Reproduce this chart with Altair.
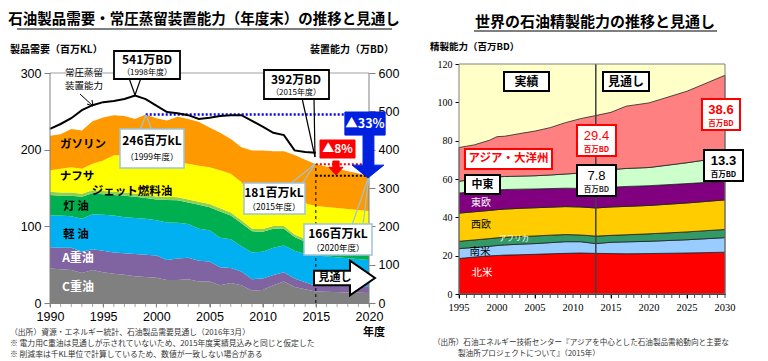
import altair as alt
import pandas as pd

JP = "Noto Sans CJK JP"
NUM = "Liberation Sans"
NARROW = "Liberation Sans Narrow"

# ---------------- left panel data (百万kL, 年度) ----------------
years_l = list(range(1990, 2016)) + [2020]
cats_l = ["C重油", "A重油", "軽油", "灯油", "ジェット燃料油", "ナフサ", "ガソリン"]
c_heavy = [45, 44, 43, 39, 43, 40, 38, 37, 35, 34, 33, 30, 30, 31, 28, 28, 23, 26, 23, 16, 17, 23, 28, 21, 18, 15, 13]
a_heavy = [27.6, 28, 29, 28, 27, 28, 28, 28, 29, 29, 29, 26, 28, 28, 27, 26, 23.5, 19.6, 18, 15, 15, 13.5, 12, 11, 9, 7.6, 8.7]
diesel = [41.4, 42, 41, 43, 45.6, 47, 48, 47, 47, 47, 46, 49, 46.6, 44, 42, 41, 38.5, 37.4, 33, 35, 35, 35.5, 35, 36, 37, 39.4, 34.3]
kerosene = [27, 26, 27, 28.6, 27.4, 27, 27, 28, 27.6, 27, 27, 29.5, 29.4, 28, 31, 30, 34.5, 31, 30, 27.5, 26, 25, 22, 18, 16, 13, 8]
jet = [4, 4, 4, 4, 4, 4, 4, 4, 4, 4, 4, 4, 4, 4, 4, 4, 4, 4, 4, 3.5, 3.5, 3.5, 3.5, 3.5, 3.5, 3.5, 3.5]
naphtha = [28, 31, 33, 32.4, 34.6, 40, 47.6, 48.6, 47.4, 47, 47, 43, 45.7, 46.6, 47, 48, 49.5, 50.6, 49.8, 37, 35, 35.5, 38.1, 42, 46.5, 48, 52.5]
gasoline = [45, 45, 50, 50, 55.4, 56, 52.4, 51.4, 50, 58, 55, 56.4, 59.3, 58.4, 57, 52, 49, 45.4, 45.2, 65, 67.5, 62, 59.4, 61.5, 57, 54.5, 46]
colors_l = ["#808080", "#8064a2", "#00b0f0", "#00b050", "#92d050", "#ffff00", "#ff9900"]

cap_years = list(range(1990, 2016))
capacity = [454, 467, 482, 503, 516, 524, 527, 532, 541, 532, 515, 498, 495, 490, 480, 483, 488, 490, 490, 475, 460, 444, 438, 398, 394, 392]

ticks_l = list(range(1990, 2021))
labels_l = [1990, 1995, 2000, 2005, 2010, 2015, 2020]

# ---------------- right panel data (百万BD) ----------------
years_r = [1995, 1997, 1999, 2000, 2001, 2003, 2005, 2007, 2009, 2011, 2013, 2015, 2017, 2020, 2025, 2030]
cats_r = ["北米", "南米", "アフリカ", "西欧", "東欧", "中東", "アジア・大洋州"]
n_america = [18.5, 19.3, 19.9, 20.1, 20.3, 20.5, 20.7, 21.0, 21.2, 21.4, 21.2, 21.1, 21.0, 21.1, 21.4, 21.8]
s_america = [5.2, 5.0, 5.0, 5.2, 5.3, 5.5, 5.6, 5.8, 6.1, 5.9, 5.1, 5.9, 6.2, 6.4, 6.9, 7.6]
africa = [3.8, 3.9, 4.0, 4.0, 4.0, 4.0, 4.0, 3.9, 3.7, 3.5, 3.9, 3.6, 3.7, 3.9, 4.1, 4.3]
w_europe = [14.7, 14.7, 14.7, 14.7, 14.7, 14.7, 14.7, 14.6, 14.6, 14.6, 14.7, 14.8, 14.8, 14.8, 15.1, 15.4]
e_europe = [10.5, 10.5, 10.4, 10.3, 10.2, 10.0, 9.8, 9.7, 9.6, 9.7, 10.2, 10.3, 10.4, 10.3, 10.1, 9.7]
mideast = [6.1, 6.6, 6.9, 6.8, 6.8, 6.8, 6.9, 7.1, 7.4, 8.0, 8.4, 9.2, 9.4, 9.5, 10.9, 12.6]
asia = [17.6, 17.8, 19.3, 21.0, 21.0, 22.2, 23.3, 24.7, 26.8, 28.4, 29.6, 29.9, 32.5, 33.7, 37.3, 42.7]
colors_r = ["#ff0000", "#99ccff", "#339966", "#ffcc00", "#800080", "#ccffcc", "#ff8080"]

ticks_r = list(range(1995, 2031))
labels_r = [1995, 2000, 2005, 2010, 2015, 2020, 2025, 2030]

# ---------------- tables ----------------
rows = []
for k, (c, s) in enumerate(zip(cats_l, [c_heavy, a_heavy, diesel, kerosene, jet, naphtha, gasoline])):
    for y, v in zip(years_l, s):
        rows.append({"year": y, "cat": c, "ord": k, "value": v})
df_l = pd.DataFrame(rows)
df_cap = pd.DataFrame({"year": cap_years, "cap": capacity})

rows = []
for k, (c, s) in enumerate(zip(cats_r, [n_america, s_america, africa, w_europe, e_europe, mideast, asia])):
    for y, v in zip(years_r, s):
        rows.append({"year": y, "region": c, "ord": k, "value": v})
df_r = pd.DataFrame(rows)

one = pd.DataFrame({"k": [0]})


def T(x, y, s, size=11, color="black", weight="bold", align="center", font=JP):
    return alt.Chart(one).mark_text(text=s, font=font, fontSize=size, fontWeight=weight, color=color,
                                    align=align, baseline="middle").encode(x=alt.value(x), y=alt.value(y))


def R(x1, y1, x2, y2, fill="white", stroke="black", sw=1.5, fo=1):
    return alt.Chart(one).mark_rect(fill=fill, stroke=stroke, strokeWidth=sw, fillOpacity=fo).encode(
        x=alt.value(x1), x2=alt.value(x2), y=alt.value(y1), y2=alt.value(y2))


def L(x1, y1, x2, y2, color="black", sw=1):
    return alt.Chart(one).mark_rule(color=color, strokeWidth=sw).encode(
        x=alt.value(x1), x2=alt.value(x2), y=alt.value(y1), y2=alt.value(y2))


def P(x, y, path, size, fill, stroke, sw=1):
    return alt.Chart(one).mark_point(shape=path, size=size, filled=True, fill=fill, stroke=stroke,
                                     strokeWidth=sw, opacity=1, fillOpacity=1).encode(
        x=alt.value(x), y=alt.value(y))


# ---------------- left panel ----------------
LW, LH = 319, 239
YMAX = 300 * LH / 230.0
OX, OY = 48, 62


def lx(p):
    return p - OX


def ly(p):
    return p - OY


xl = alt.X("year:Q", scale=alt.Scale(domain=[1990, 2020], nice=False, zero=False),
           axis=alt.Axis(values=labels_l, format="d",
                         title=None, grid=False, domainColor="#808080", tickColor="#808080", tickSize=4,
                         labelFont=NUM, labelFontSize=12.5, labelColor="black", labelPadding=3,
                         labelOverlap=False, labelFlush=False))

areas_l = alt.Chart(df_l).mark_area().encode(
    x=xl,
    y=alt.Y("value:Q", stack="zero", scale=alt.Scale(domain=[0, YMAX], nice=False),
            axis=alt.Axis(values=[0, 50, 100, 150, 200, 250, 300], title=None, grid=False, domain=False,
                          tickColor="#808080", tickSize=6, labelFont=NUM, labelFontSize=12.5,
                          labelColor="black", labelPadding=3)),
    color=alt.Color("cat:N", scale=alt.Scale(domain=cats_l, range=colors_l), legend=None),
    order=alt.Order("ord:Q", sort="ascending"),
)

minor_l = alt.Chart(pd.DataFrame({"year": ticks_l})).mark_tick(size=4, thickness=1, color="#808080").encode(
    x=xl, y=alt.value(LH + 2))

blue_dot = alt.Chart(one).mark_rule(color="#0000ff", strokeWidth=2.5, strokeDash=[2, 2]).encode(
    x=alt.datum(1999), x2=alt.datum(2020), y=alt.datum(246))
red_dot = alt.Chart(one).mark_rule(color="#ff0000", strokeWidth=2, strokeDash=[2, 2]).encode(
    x=alt.datum(2015), x2=alt.datum(2020), y=alt.datum(181))
black_dot = alt.Chart(one).mark_rule(color="black", strokeWidth=2, strokeDash=[2, 2]).encode(
    x=alt.datum(2015), x2=alt.datum(2020), y=alt.datum(166))
v2015 = alt.Chart(one).mark_rule(color="black", strokeWidth=1, strokeDash=[3, 3]).encode(
    x=alt.datum(2015), y=alt.datum(0), y2=alt.datum(181))

inner_l = alt.layer(areas_l, minor_l, blue_dot, red_dot, black_dot, v2015)

line_cap = alt.Chart(df_cap).mark_line(color="black", strokeWidth=2).encode(
    x="year:Q",
    y=alt.Y("cap:Q", scale=alt.Scale(domain=[0, 2 * YMAX], nice=False),
            axis=alt.Axis(orient="right", values=[0, 100, 200, 300, 400, 500, 600], title=None, grid=False,
                          domain=False, tickColor="#808080", tickSize=6, labelFont=NUM, labelFontSize=12.5,
                          labelColor="black", labelPadding=3)),
)

arrow_right = "M -1 -0.24 L 0.18 -0.24 L 0.18 -0.57 L 1 0 L 0.18 0.57 L 0.18 0.24 L -1 0.24 Z"
arrow_blue = ("M -0.64 -1 L 0.58 -1 L 0.58 -0.3 L 0.24 -0.3 L 0.24 0.61 L 0.54 0.61 L 0.06 1 "
              "L -0.42 0.61 L -0.09 0.61 L -0.09 -0.3 L -0.64 -0.3 Z")
arrow_down = "M -0.45 -1 L 0.45 -1 L 0.45 -0.1 L 1 -0.1 L 0 1 L -1 -0.1 L -0.45 -0.1 Z"

ann_l = [
    # frame
    L(0, ly(71), LW, ly(71), "#a0a0a0", 1),
    L(0, ly(71), 0, LH, "#808080", 1),
    L(LW, ly(71), LW, LH, "#808080", 1),
    # titles
    T(lx(202), ly(18), "石油製品需要・常圧蒸留装置能力（年度末）の推移と見通し", 14.5),
    L(lx(15), ly(27), lx(390), ly(27), "black", 1.2),
    T(lx(8), ly(48), "製品需要（百万KL）", 10, align="left"),
    T(lx(392), ly(48), "装置能力（万BD）", 10, align="right"),
    T(lx(372), ly(331), "年度", 11),
    T(lx(8), ly(331), "（出所）資源・エネルギー統計、石油製品需要見通し（2016年3月）", 7.8, "#333333", "normal", "left"),
    T(lx(8), ly(342), "※ 電力用C重油は見通しが示されていないため、2015年度実績見込みと同じと仮定した", 7.8, "#333333", "normal", "left"),
    T(lx(8), ly(353), "※ 削減率は千KL単位で計算しているため、数値が一致しない場合がある", 7.8, "#333333", "normal", "left"),
    # category labels
    T(lx(81), ly(143), "ガソリン", 11.5),
    T(lx(75), ly(175), "ナフサ", 11.5),
    T(lx(130), ly(190), "ジェット燃料油", 11.5),
    T(lx(74), ly(205), "灯 油", 11.5),
    T(lx(74), ly(233), "軽 油", 11.5),
    T(lx(76), ly(256), "A重油", 12, "white"),
    T(lx(76), ly(285), "C重油", 12, "white"),
    # capacity label
    T(lx(82), ly(70.5), "常圧蒸留", 9.5, weight="normal"),
    T(lx(82), ly(84), "装置能力", 9.5, weight="normal"),
    L(lx(78), ly(92), lx(91), ly(104), "black", 1),
    L(lx(91), ly(104), lx(85), ly(102), "black", 1),
    L(lx(91), ly(104), lx(90), ly(98), "black", 1),
    # 541 callout
    L(lx(127), ly(76), lx(133), ly(93), "black", 1.2),
    L(lx(139), ly(76), lx(133), ly(93), "black", 1.2),
    R(lx(112), ly(49), lx(178), ly(77), sw=1.8),
    T(lx(145), ly(58), "541万BD", 12),
    T(lx(145), ly(71), "（1998年度）", 8, weight="normal"),
    # 392 callout
    L(lx(300), ly(96), lx(313), ly(155), "black", 1.2),
    L(lx(312), ly(96), lx(313), ly(155), "black", 1.2),
    R(lx(262), ly(68), lx(327), ly(97), sw=1.8),
    T(lx(294), ly(78), "392万BD", 12),
    T(lx(294), ly(91), "（2015年度）", 8, weight="normal"),
    # 246 callout
    L(lx(138), ly(128), lx(144), ly(113), "#9dc3d9", 1.2),
    L(lx(150), ly(128), lx(144), ly(113), "#9dc3d9", 1.2),
    R(lx(118), ly(127), lx(182), ly(166), stroke="#9dc3d9", sw=1.5),
    T(lx(150), ly(139), "246百万kL", 12),
    T(lx(150), ly(155), "（1999年度）", 8.5, weight="normal"),
    # 181 callout
    L(lx(288), ly(182), lx(313), ly(162), "#9dc3d9", 1.2),
    L(lx(300), ly(182), lx(313), ly(162), "#9dc3d9", 1.2),
    R(lx(242), ly(181), lx(303), ly(212), stroke="#9dc3d9", sw=1.5),
    T(lx(272), ly(191), "181百万kL", 12),
    T(lx(272), ly(205), "（2015年度）", 8.5, weight="normal"),
    # 166 callout
    L(lx(350), ly(223), lx(367), ly(174), "#9dc3d9", 1.2),
    L(lx(361), ly(223), lx(367), ly(174), "#9dc3d9", 1.2),
    R(lx(302), ly(222), lx(370), ly(253), stroke="#9dc3d9", sw=1.5),
    T(lx(336), ly(232), "166百万kL", 12),
    T(lx(336), ly(246), "（2020年度）", 8.5, weight="normal"),
    # -8%
    R(lx(318), ly(138), lx(353), ly(156), fill="#ff0000", stroke="#ff0000", sw=1),
    T(lx(335.5), ly(147), "▲8%", 12, "white"),
    P(lx(334), ly(166), arrow_down, 196, "#ff0000", "#ff0000"),
    # -33%
    P(lx(364), ly(143), arrow_blue, 4356, "#0020e0", "#0020e0"),
    T(lx(363), ly(122), "▲33%", 12.5, "white"),
    # 見通し arrow
    P(lx(342.5), ly(276), arrow_right, 3721, "white", "black", 2),
    T(lx(333), ly(276), "見通し", 11),
]

left = alt.layer(inner_l, line_cap, *ann_l).resolve_scale(y="independent").properties(width=LW, height=LH)

# ---------------- right panel ----------------
RW, RH = 266, 230
QX, QY = 457, 62


def rx(p):
    return p - QX


def ry(p):
    return p - QY


bg = R(0, 0, RW, RH, fill="#ffffc8", stroke="#ffffc8", sw=0)

xr = alt.X("year:Q", scale=alt.Scale(domain=[1995, 2030], nice=False, zero=False),
           axis=alt.Axis(values=labels_r, labels=False,
                         title=None, grid=False, domainColor="black", tickColor="black", tickSize=4))

areas_r = alt.Chart(df_r).mark_area(stroke="#222222", strokeWidth=0.8).encode(
    x=xr,
    y=alt.Y("value:Q", stack="zero", scale=alt.Scale(domain=[0, 120], nice=False),
            axis=alt.Axis(values=[0, 20, 40, 60, 80, 100, 120], title=None, grid=False, domainColor="black",
                          tickColor="black", tickSize=4, labelFont=NARROW, labelFontSize=10,
                          labelColor="black", labelPadding=3)),
    color=alt.Color("region:N", scale=alt.Scale(domain=cats_r, range=colors_r), legend=None),
    order=alt.Order("ord:Q", sort="ascending"),
)

minor_r = alt.Chart(pd.DataFrame({"year": ticks_r})).mark_tick(size=4, thickness=1, color="black").encode(
    x=xr, y=alt.value(RH + 2))

xlab_r = alt.Chart(pd.DataFrame({"year": labels_r})).mark_text(
    font=NARROW, fontSize=10.5, color="black", baseline="top", align="center").encode(
    x=xr, y=alt.value(RH + 9), text=alt.Text("year:Q", format="d"))

v2013 = alt.Chart(one).mark_rule(color="#404040", strokeWidth=1.5).encode(x=alt.datum(2013))

ann_r = [
    R(0, 0, RW, RH, fill="white", stroke="#808080", sw=1, fo=0),
    T(rx(593), ry(20), "世界の石油精製能力の推移と見通し", 15),
    L(rx(472), ry(29), rx(715), ry(29), "black", 1.2),
    T(rx(428), ry(45), "精製能力（百万BD）", 9.5, align="left"),
    T(rx(431), ry(341), "（出所）石油エネルギー技術センター『アジアを中心とした石油製品需給動向と主要な", 7.6, "#333333", "normal", "left"),
    T(rx(456), ry(352), "製油所プロジェクトについて』（2015年）", 7.6, "#333333", "normal", "left"),
    R(rx(502), ry(70), rx(547), ry(89), sw=2),
    T(rx(524.5), ry(80), "実績", 12),
    R(rx(601), ry(70), rx(647), ry(89), sw=2),
    T(rx(624), ry(80), "見通し", 12),
    R(rx(463), ry(147), rx(550), ry(167), stroke="#ff0000", sw=2),
    T(rx(506.5), ry(157), "アジア・大洋州", 11.5, "#ff0000"),
    R(rx(575), ry(123), rx(614), ry(154), stroke="#ff0000", sw=2),
    T(rx(594.5), ry(134), "29.4", 13, "#ff0000", "normal", font=NUM),
    T(rx(594.5), ry(148), "百万BD", 7.5, "#ff0000"),
    R(rx(700), ry(97), rx(738), ry(128), stroke="#ff0000", sw=2),
    T(rx(719), ry(108), "38.6", 13, "#ff0000", font=NUM),
    T(rx(719), ry(122), "百万BD", 7.5, "#ff0000"),
    R(rx(463), ry(173), rx(498), ry(192), sw=2),
    T(rx(480.5), ry(182.5), "中東", 11),
    R(rx(575), ry(163), rx(614), ry(194), sw=2),
    T(rx(594.5), ry(174), "7.8", 13, "black", "normal", font=NUM),
    T(rx(594.5), ry(188), "百万BD", 7.5, "#333333"),
    R(rx(702), ry(148), rx(741), ry(179), sw=2),
    T(rx(721.5), ry(159), "13.3", 13, font=NUM),
    T(rx(721.5), ry(173), "百万BD", 7.5),
    T(rx(479), ry(201), "東欧", 10, "white", "normal"),
    T(rx(479), ry(223), "西欧", 10, "black", "normal"),
    T(rx(512), ry(237), "アフリカ", 7.5, "white", "normal"),
    T(rx(478), ry(250), "南米", 10.5, "black", "normal"),
    T(rx(480), ry(271), "北米", 10.5, "white", "normal"),
]

right = alt.layer(bg, areas_r, minor_r, xlab_r, v2013, *ann_r).properties(width=RW, height=RH)

chart = alt.hconcat(left, right, spacing=90, bounds="flush").resolve_scale(
    color="independent", x="independent", y="independent").configure_view(stroke=None).configure_axis(
    labelOverlap=False).properties(
    padding={"left": 0, "top": 4, "right": 0, "bottom": 0})

chart.save("out.html", embed_options={"renderer": "svg", "actions": False})
